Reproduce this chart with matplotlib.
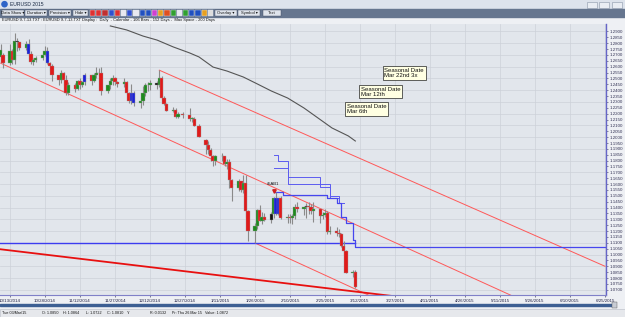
import matplotlib
matplotlib.use("Agg")
import matplotlib.pyplot as plt
import matplotlib.dates as mdates
from matplotlib.patches import Rectangle, Circle
import numpy as np
import pandas as pd

plt.rcParams['font.family'] = ['Liberation Sans', 'DejaVu Sans']

# ------------------------------------------------------------------ data
bar_dates = [
    "2014-10-09", "2014-10-10", "2014-10-13", "2014-10-14", "2014-10-15", "2014-10-16", "2014-10-17",
    "2014-10-20", "2014-10-21", "2014-10-22", "2014-10-23", "2014-10-24", "2014-10-27", "2014-10-28",
    "2014-10-29", "2014-10-30", "2014-10-31",
    "2014-11-03", "2014-11-04", "2014-11-05", "2014-11-06", "2014-11-07", "2014-11-10", "2014-11-11",
    "2014-11-12", "2014-11-13", "2014-11-14", "2014-11-17", "2014-11-18", "2014-11-19", "2014-11-20",
    "2014-11-21", "2014-11-24", "2014-11-25", "2014-11-26", "2014-11-27", "2014-11-28",
    "2014-12-01", "2014-12-02", "2014-12-03", "2014-12-04", "2014-12-05", "2014-12-08", "2014-12-09",
    "2014-12-10", "2014-12-11", "2014-12-12", "2014-12-15", "2014-12-16", "2014-12-17", "2014-12-18",
    "2014-12-19", "2014-12-22", "2014-12-23", "2014-12-24", "2014-12-26", "2014-12-29", "2014-12-30",
    "2014-12-31",
    "2015-01-02", "2015-01-05", "2015-01-06", "2015-01-07", "2015-01-08", "2015-01-09", "2015-01-12",
    "2015-01-13", "2015-01-14", "2015-01-15", "2015-01-16", "2015-01-19", "2015-01-20", "2015-01-21",
    "2015-01-22", "2015-01-23", "2015-01-26", "2015-01-27", "2015-01-28", "2015-01-29", "2015-01-30",
    "2015-02-02", "2015-02-03", "2015-02-04", "2015-02-05", "2015-02-06", "2015-02-09", "2015-02-10",
    "2015-02-11", "2015-02-12", "2015-02-13", "2015-02-16", "2015-02-17", "2015-02-18", "2015-02-19",
    "2015-02-20", "2015-02-23", "2015-02-24", "2015-02-25", "2015-02-26", "2015-02-27",
    "2015-03-02", "2015-03-03", "2015-03-04", "2015-03-05", "2015-03-06", "2015-03-09", "2015-03-10",
]
bar_open = [
    1.2685, 1.2700, 1.2632, 1.2736, 1.2654, 1.2815, 1.2810, 1.2760, 1.2797, 1.2711, 1.2644, 1.2653,
    1.2670, 1.2700, 1.2735, 1.2630, 1.2610,
    1.2525, 1.2484, 1.2543, 1.2487, 1.2375, 1.2447, 1.2410, 1.2478, 1.2444, 1.2470, 1.2525, 1.2480,
    1.2532, 1.2545, 1.2548, 1.2390, 1.2445, 1.2476, 1.2504, 1.2470,
    1.2452, 1.2473, 1.2380, 1.2311, 1.2380, 1.2290, 1.2305, 1.2375, 1.2442, 1.2440, 1.2465, 1.2440,
    1.2505, 1.2335, 1.2286, 1.2225, 1.2227, 1.2171, 1.2196, 1.2187, 1.2155, 1.2156,
    1.2098, 1.1975, 1.1933, 1.1893, 1.1836, 1.1793, 1.1840, 1.1836, 1.1772, 1.1788, 1.1632, 1.1566,
    1.1627, 1.1546, 1.1610, 1.1369, 1.1204, 1.1241, 1.1380, 1.1287, 1.1320,
    1.1290, 1.1345, 1.1480, 1.1345, 1.1480, 1.1315, 1.1322, 1.1312, 1.1329, 1.1402, 1.1388, 1.1405,
    1.1410, 1.1407, 1.1375, 1.1384, 1.1330, 1.1335, 1.1358, 1.1196,
    1.1198, 1.1182, 1.1176, 1.1075, 1.1026, 1.0845, 1.0850,
]
bar_high = [
    1.2791, 1.2720, 1.2791, 1.2750, 1.2887, 1.2845, 1.2814, 1.2815, 1.2837, 1.2730, 1.2676, 1.2690,
    1.2713, 1.2773, 1.2765, 1.2640, 1.2620,
    1.2530, 1.2575, 1.2555, 1.2533, 1.2470, 1.2460, 1.2490, 1.2500, 1.2480, 1.2545, 1.2530, 1.2545,
    1.2600, 1.2590, 1.2595, 1.2445, 1.2500, 1.2532, 1.2510, 1.2480,
    1.2500, 1.2475, 1.2385, 1.2456, 1.2390, 1.2340, 1.2433, 1.2460, 1.2470, 1.2490, 1.2475, 1.2570,
    1.2520, 1.2350, 1.2290, 1.2260, 1.2250, 1.2215, 1.2210, 1.2245, 1.2175, 1.2170,
    1.2110, 1.1980, 1.1970, 1.1910, 1.1850, 1.1850, 1.1865, 1.1840, 1.1815, 1.1810, 1.1640, 1.1640,
    1.1630, 1.1680, 1.1680, 1.1380, 1.1270, 1.1387, 1.1420, 1.1365, 1.1350,
    1.1360, 1.1490, 1.1530, 1.1485, 1.1497, 1.1345, 1.1345, 1.1345, 1.1430, 1.1450, 1.1415, 1.1440,
    1.1450, 1.1430, 1.1450, 1.1385, 1.1360, 1.1385, 1.1375, 1.1240,
    1.1235, 1.1215, 1.1180, 1.1115, 1.1040, 1.0870, 1.0870,
]
bar_low = [
    1.2640, 1.2590, 1.2613, 1.2620, 1.2622, 1.2735, 1.2740, 1.2745, 1.2700, 1.2620, 1.2614, 1.2637,
    1.2660, 1.2693, 1.2625, 1.2560, 1.2480,
    1.2440, 1.2459, 1.2440, 1.2357, 1.2358, 1.2385, 1.2400, 1.2410, 1.2426, 1.2445, 1.2440, 1.2473,
    1.2505, 1.2525, 1.2360, 1.2380, 1.2410, 1.2440, 1.2445, 1.2430,
    1.2430, 1.2360, 1.2290, 1.2280, 1.2269, 1.2245, 1.2270, 1.2350, 1.2390, 1.2400, 1.2410, 1.2430,
    1.2330, 1.2275, 1.2220, 1.2210, 1.2165, 1.2160, 1.2160, 1.2140, 1.2130, 1.2095,
    1.2000, 1.1860, 1.1855, 1.1800, 1.1755, 1.1760, 1.1800, 1.1753, 1.1730, 1.1570, 1.1460, 1.1540,
    1.1530, 1.1520, 1.1315, 1.1113, 1.1098, 1.1215, 1.1287, 1.1262, 1.1285,
    1.1270, 1.1315, 1.1335, 1.1340, 1.1300, 1.1270, 1.1270, 1.1262, 1.1305, 1.1360, 1.1340, 1.1315,
    1.1345, 1.1345, 1.1280, 1.1270, 1.1300, 1.1320, 1.1175, 1.1175,
    1.1160, 1.1150, 1.1060, 1.1000, 1.0839, 1.0808, 1.0712,
]
bar_close = [
    1.2740, 1.2632, 1.2736, 1.2654, 1.2815, 1.2810, 1.2760, 1.2797, 1.2711, 1.2644, 1.2653, 1.2670,
    1.2700, 1.2735, 1.2630, 1.2610, 1.2525,
    1.2484, 1.2543, 1.2487, 1.2375, 1.2447, 1.2410, 1.2478, 1.2444, 1.2470, 1.2525, 1.2480, 1.2532,
    1.2545, 1.2548, 1.2390, 1.2445, 1.2476, 1.2504, 1.2470, 1.2452,
    1.2473, 1.2380, 1.2311, 1.2380, 1.2290, 1.2305, 1.2375, 1.2442, 1.2440, 1.2465, 1.2440, 1.2505,
    1.2335, 1.2286, 1.2225, 1.2227, 1.2171, 1.2196, 1.2187, 1.2155, 1.2156, 1.2098,
    1.2002, 1.1933, 1.1893, 1.1836, 1.1793, 1.1840, 1.1836, 1.1772, 1.1788, 1.1632, 1.1566, 1.1627,
    1.1546, 1.1610, 1.1369, 1.1204, 1.1241, 1.1380, 1.1287, 1.1320, 1.1290,
    1.1345, 1.1480, 1.1345, 1.1480, 1.1315, 1.1322, 1.1312, 1.1329, 1.1402, 1.1388, 1.1405, 1.1410,
    1.1407, 1.1375, 1.1384, 1.1330, 1.1335, 1.1358, 1.1196, 1.1198,
    1.1182, 1.1176, 1.1075, 1.1026, 1.0845, 1.0850, 1.0725,
]
# body colour overrides (blue / black bodies in the source platform)
blue_bars = ["2014-10-21", "2014-10-29", "2014-11-14", "2014-12-04", "2014-12-05", "2015-02-04", "2015-02-05"]
black_bars = ["2014-10-16", "2014-11-20", "2014-12-15", "2015-01-12", "2015-02-02", "2015-02-17"]

# grey projected curve
curve_dates = ["2014-11-25", "2014-12-02", "2014-12-09", "2014-12-15", "2014-12-22", "2014-12-29",
               "2015-01-02", "2015-01-08", "2015-01-14", "2015-01-21", "2015-01-27", "2015-02-02",
               "2015-02-09", "2015-02-16", "2015-02-22", "2015-02-28", "2015-03-07", "2015-03-10"]
curve_vals = [1.2947, 1.2913, 1.2861, 1.2827, 1.2768, 1.2717, 1.2683, 1.2597, 1.2563, 1.2512,
              1.2453, 1.2393, 1.2333, 1.2248, 1.2163, 1.2078, 1.2010, 1.1967]

# trend lines (start date, end date) / (start price, end price)
thin_line_dates = [("2014-10-09", "2015-05-16"), ("2014-12-16", "2015-06-25"), ("2015-01-26", "2015-03-16")]
thin_line_vals = [(1.2630, 1.0650), (1.2570, 1.0900), (1.1098, 1.0651)]
thick_line_dates = ("2014-10-08", "2015-04-07")
thick_line_vals = (1.1047, 1.0618)

# support line at January low
support_dates = ("2014-10-08", "2015-03-10")
support_val = 1.1098

# blue staircase stop lines
stair_dates = [
    ["2015-02-03", "2015-02-05", "2015-02-09", "2015-02-23", "2015-02-27", "2015-03-03", "2015-03-05"],
    ["2015-02-03", "2015-02-09", "2015-02-27", "2015-03-03", "2015-03-05"],
    ["2015-02-03", "2015-02-07", "2015-02-26", "2015-03-02", "2015-03-04", "2015-03-06", "2015-03-09",
     "2015-03-10", "2015-06-26"],
]
stair_vals = [
    [1.1848, 1.1799, 1.1663, 1.1578, 1.1500, 1.1436, 1.1436],
    [1.1735, 1.1600, 1.1480, 1.1440, 1.1440],
    [1.1535, 1.1507, 1.1479, 1.1436, 1.1322, 1.1266, 1.1124, 1.1067, 1.1067],
]

seasonal_labels = ["Seasonal Date\nMar 22nd 3x", "Seasonal Date\nMar 12th", "Seasonal Date\nMar 6th"]
marker_date = "2015-02-03"
marker_val = 1.1540
marker_text = "#5AB1"

x_tick_dates = pd.date_range("2014-10-13", periods=18, freq="15D")
y_tick_vals = np.round(np.arange(1.0700, 1.29001, 0.005), 4)
y_grid_vals = np.round(np.arange(1.0700, 1.29001, 0.01), 4)

toolbar_buttons = ["Data Show \u25be", "Duration \u25be", "Precision \u25be", "Hide \u25be"]
toolbar_buttons2 = ["Overlay \u25be", "Symbol \u25be", "Text"]
status_items = ["Tue 03/Mar/15", "O: 1.0850", "H: 1.0864", "L: 1.0722", "C: 1.0810", "Y:",
                "R: 0.0132", "Pr: Thu 26 Mar 15", "Value: 1.0872"]
info_text = ("EURUSD 9-7-13.TXT : EURUSD 9-7-13.TXT Display :  Daily  - Calendar - 106 Bars - "
             "152 Days -  Max Space - 200 Days")

# ------------------------------------------------------------------ figure
W, H = 625, 317
fig = plt.figure(figsize=(W / 100, H / 100), dpi=100, facecolor="#eef0f4")

# chrome (pixel overlay)
bg = fig.add_axes([0, 0, 1, 1], zorder=0)
bg.set_xlim(0, W)
bg.set_ylim(H, 0)
bg.axis("off")
bg.add_patch(Rectangle((0, 0), W, 8.5, color="#dde3ec"))
bg.add_patch(Circle((4.5, 4.2), 2.6, color="#2e64c8"))
bg.text(10, 4.3, "EURUSD 2015", fontsize=3.6, va="center", color="#1a2a44")
for x0 in (587, 599, 612):
    bg.add_patch(Rectangle((x0, 1.5), 10, 6, fc="#e9edf3", ec="#8a96a8", lw=0.4))
bg.add_patch(Rectangle((0, 8.5), W, 8.5, color="#66768f"))
bx = [2, 25, 49, 73]
bw = [22, 22, 22, 15]
for x0, w, t in zip(bx, bw, toolbar_buttons):
    bg.add_patch(Rectangle((x0, 9.5), w, 6.5, fc="#dfe4ec", ec="#3c4860", lw=0.3))
    bg.text(x0 + w / 2, 12.9, t, fontsize=3.0, ha="center", va="center", color="#111")
icon_cols = ["#e03030", "#e03030", "#c03030", "#3050d0", "#e03030", "#e8e8f0", "#3050d0",
             "#e8e8f0", "#2050c0", "#2050c0", "#d040d0", "#e8a020", "#e05020", "#30a030",
             "#e8e8f0", "#30a030", "#2050c0", "#2050c0", "#e8a020", "#dddddd"]
for i, c in enumerate(icon_cols):
    bg.add_patch(Rectangle((90 + i * 6.2, 10), 5.2, 5.5, fc=c, ec="#dfe4ec", lw=0.3))
for x0, w, t in zip([215, 238, 263], [22, 22, 18], toolbar_buttons2):
    bg.add_patch(Rectangle((x0, 9.5), w, 6.5, fc="#dfe4ec", ec="#3c4860", lw=0.3))
    bg.text(x0 + w / 2, 12.9, t, fontsize=3.0, ha="center", va="center", color="#111")
bg.text(2, 19.8, info_text, fontsize=2.9, va="center", color="#111")
# scroll bar + status bar
bg.add_patch(Rectangle((0, 303.5), 614, 2.8, color="#3d5f93"))
bg.add_patch(Rectangle((612, 302), 5, 6, fc="#c8ccd4", ec="#555", lw=0.3))
bg.add_patch(Rectangle((0, 308.5), W, 8.5, fc="#e6e8ec", ec="#b8bcc4", lw=0.4))
sx = [2, 42, 63, 86, 107, 127, 150, 172, 205]
for x0, t in zip(sx, status_items):
    bg.text(x0, 313.2, t, fontsize=2.7, va="center", color="#111")

# main chart axes: pixel frame x 0..606, y 24..295
ax = fig.add_axes([0, 1 - 295 / H, 606 / W, 271 / H], zorder=1)
ax.set_facecolor("#e2e6ec")
t0 = mdates.date2num(pd.Timestamp("2014-10-13"))
t1 = mdates.date2num(pd.Timestamp("2015-06-25"))
ax.set_xlim(t0 - 10 / 2.3333, t1 + 1 / 2.3333)
ax.set_ylim(1.2887 - 262 / 1174, 1.2887 + 9 / 1174)

for v in y_grid_vals:
    ax.axhline(v, color="#cdd1d9", lw=0.5, zorder=0)
for dd in x_tick_dates:
    ax.axvline(mdates.date2num(dd), color="#cdd1d9", lw=0.5, zorder=0)

# candles
d = mdates.date2num(pd.to_datetime(bar_dates))
o = np.array(bar_open); h = np.array(bar_high); l = np.array(bar_low); c = np.array(bar_close)
cols = []
for ds, oo, cc in zip(bar_dates, o, c):
    if ds in blue_bars:
        cols.append("#1c22d8")
    elif ds in black_bars:
        cols.append("#161616")
    else:
        cols.append("#1e8a1e" if cc >= oo else "#e01a1a")
ax.vlines(d, l, h, color="#8a8a8a", lw=0.8, zorder=3)
body = np.maximum(np.abs(c - o), 0.0004)
ax.bar(d, body, bottom=np.minimum(o, c), width=1.35, color=cols, edgecolor="#9a9a9a",
       lw=0.25, zorder=4)

# grey curve
ax.plot(mdates.date2num(pd.to_datetime(curve_dates)), curve_vals, color="#555555", lw=0.8, zorder=2)

# trend lines
for (ds, de), (vs, ve) in zip(thin_line_dates, thin_line_vals):
    ax.plot(mdates.date2num(pd.to_datetime([ds, de])), [vs, ve], color="#ff5858", lw=0.7, zorder=2)
ax.plot(mdates.date2num(pd.to_datetime(list(thick_line_dates))), list(thick_line_vals),
        color="#e81010", lw=1.3, zorder=2)

# support line
ax.plot(mdates.date2num(pd.to_datetime(list(support_dates))), [support_val, support_val],
        color="#3c3cf0", lw=1.0, zorder=2)

# staircases
for i, (sd, sv) in enumerate(zip(stair_dates, stair_vals)):
    ax.step(mdates.date2num(pd.to_datetime(sd)), sv, where="post",
            color="#4646ee" if i == 2 else "#5c5cf0", lw=0.9 if i == 2 else 0.7, zorder=2)

# marker
mx = mdates.date2num(pd.Timestamp(marker_date))
ax.plot([mx], [marker_val], marker="v", color="#d02020", ms=2.5, zorder=5)
ax.text(mx, marker_val + 0.0065, marker_text, fontsize=3.0, ha="center", va="center", color="#111", zorder=5)

# seasonal boxes (pixel positions of top-left corners)
for (px, py), t in zip([(384.5, 68), (361, 86.5), (347, 104)], seasonal_labels):
    fig.text(px / W, 1 - py / H, t, fontsize=4.3, ha="left", va="top", linespacing=1.05,
             color="#111", zorder=6,
             bbox=dict(boxstyle="square,pad=0.3", fc="#ffffe2", ec="#222222", lw=0.5))

# axes styling
for s in ("top", "left"):
    ax.spines[s].set_visible(False)
ax.spines["right"].set_color("#6666c8")
ax.spines["right"].set_linewidth(1.0)
ax.spines["bottom"].set_color("#8080c8")
ax.spines["bottom"].set_linewidth(0.8)
ax.yaxis.tick_right()
ax.set_yticks(y_tick_vals)
ax.set_yticklabels([f"{v:.4f}" for v in y_tick_vals])
ax.tick_params(axis="y", labelsize=3.2, length=1.5, width=0.4, pad=1.0, colors="#333355")
ax.set_xticks(mdates.date2num(x_tick_dates))
ax.set_xticklabels([f"{t.month}/{t.day}/{t.year}" for t in x_tick_dates])
ax.tick_params(axis="x", labelsize=3.2, length=1.2, width=0.4, pad=1.5, colors="#222244")

fig.savefig("out.png", dpi=100, facecolor=fig.get_facecolor())
